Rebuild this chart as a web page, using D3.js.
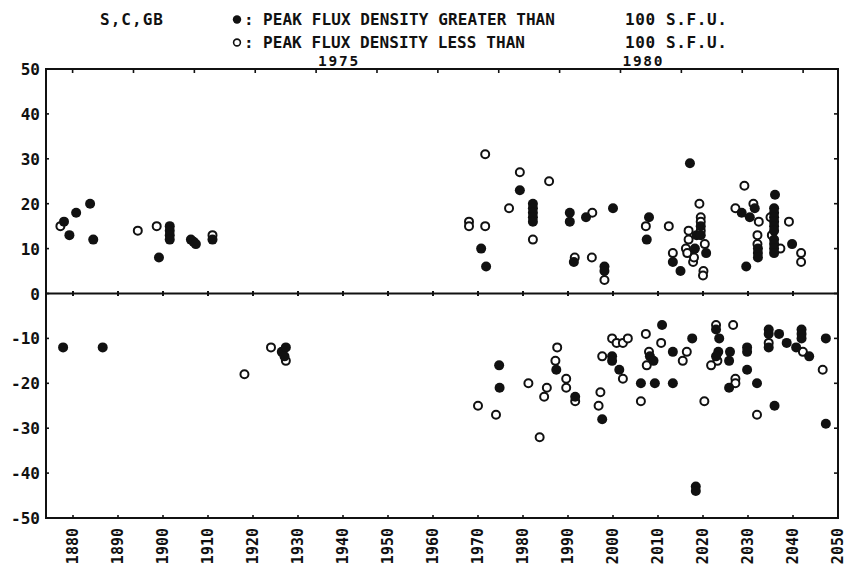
<!DOCTYPE html>
<html>
<head>
<meta charset="utf-8">
<script src="https://cdn.jsdelivr.net/npm/d3@7/dist/d3.min.js"></script>
<style>
  body { margin: 0; background: #fff; }
  text { font-family: "DejaVu Sans Mono", "Liberation Mono", monospace; fill: #111; font-weight: bold; }
</style>
</head>
<body>
<svg id="chart" width="846" height="574"></svg>
<script>
// Bartels rotation number vs. position angle (deg) of events
// filled: peak flux density > 100 s.f.u., open: < 100 s.f.u.
const bigX = [1878, 1879.2, 1880.7, 1883.8, 1884.5, 1899.1, 1901.5, 1901.5, 1901.5, 1901.5, 1906.2, 1906.8, 1907.3, 1911,
  1970.7, 1971.8, 1979.3, 1982.2, 1982.2, 1982.2, 1982.2, 1982.2, 1990.4, 1990.4, 1991.3, 1994, 1998.1, 1998.1, 2000, 2008, 2007.5,
  2013.3, 2015, 2017.1, 2018.2, 2018.6, 2019.5, 2019.5, 2020.7, 2028.6, 2030.4, 2029.6, 2031.5, 2032.2, 2032.2, 2032.2,
  2036, 2035.8, 2035.8, 2035.8, 2035.8, 2035.8, 2035.8, 2035.8, 2035.8, 2035.8, 2035.8, 2039.8,
  1877.8, 1886.6, 1926.4, 1927.3, 1927, 1974.7, 1974.8, 1987.4, 1991.6, 1997.6, 1999.8, 1999.8, 2001.4, 2006.2, 2009.3,
  2010.9, 2008.2, 2009, 2013.3, 2013.3, 2017.6, 2018.4, 2018.4, 2022.9, 2023.6, 2023.4, 2022.9, 2026, 2025.8, 2025.8,
  2029.8, 2029.8, 2029.8, 2032, 2035.9, 2034.6, 2034.6, 2034.6, 2036.9, 2038.6, 2040.7, 2043.6, 2041.9, 2041.9, 2041.9, 2047.3, 2047.3];
const bigY = [16, 13, 18, 20, 12, 8, 15, 14, 13, 12, 12, 11.5, 11, 12,
  10, 6, 23, 20, 19, 18, 17, 16, 18, 16, 7, 17, 6, 5, 19, 17, 12,
  7, 5, 29, 10, 13, 15, 13, 9, 18, 17, 6, 19, 10, 9, 8,
  22, 19, 18, 17, 16, 15, 14, 12, 11, 10, 9, 11,
  -12, -12, -13, -12, -14, -16, -21, -17, -23, -28, -14, -15, -17, -20, -20,
  -7, -14, -15, -13, -20, -10, -43, -44, -8, -10, -13, -14, -13, -15, -21,
  -12, -13, -17, -20, -25, -8, -9, -12, -9, -11, -12, -14, -8, -9, -10, -10, -29];

const smallX = [1877.2, 1894.4, 1898.6, 1911, 1968, 1968, 1971.6, 1971.6, 1976.9, 1979.3, 1982.2, 1985.8, 1991.5, 1995.4, 1995.3, 1998.1,
  2007.3, 2012.4, 2013.3, 2016.8, 2016.2, 2016.8, 2017.8, 2018, 2019.2, 2019.5, 2019.5, 2019.5, 2020.4, 2020.1, 2020, 2016.5,
  2027.2, 2029.2, 2031.2, 2032.4, 2032.1, 2032.1, 2035.3, 2035, 2037.2, 2039.1, 2041.8, 2041.8,
  1918.1, 1924, 1927.3, 1970, 1974, 1981.2, 1983.7, 1985.3, 1984.7, 1987.6, 1987.2, 1989.6, 1989.6, 1991.6, 1997.2, 1996.8,
  1997.6, 1999.8, 2000.8, 2002.2, 2003.3, 2002.2, 2006.2, 2007.3, 2008, 2007.5, 2010.7, 2016.4, 2015.5, 2020.3,
  2022.9, 2023.2, 2021.8, 2026.7, 2027.2, 2027.2, 2032, 2034.6, 2042.2, 2046.6];
const smallY = [15, 14, 15, 13, 16, 15, 31, 15, 19, 27, 12, 25, 8, 18, 8, 3,
  15, 15, 9, 14, 10, 12, 7, 8, 20, 17, 16, 14, 11, 5, 4, 9,
  19, 24, 20, 16, 13, 11, 13, 17, 10, 16, 9, 7,
  -18, -12, -15, -25, -27, -20, -32, -21, -23, -12, -15, -19, -21, -24, -22, -25,
  -14, -10, -11, -11, -10, -19, -24, -9, -13, -16, -11, -13, -15, -24,
  -7, -15, -16, -7, -19, -20, -27, -11, -13, -17];

const xTicks = [1880, 1890, 1900, 1910, 1920, 1930, 1940, 1950, 1960, 1970, 1980, 1990, 2000, 2010, 2020, 2030, 2040, 2050];
const yTicks = [50, 40, 30, 20, 10, 0, -10, -20, -30, -40, -50];
const years = [1971, 1972, 1973, 1974, 1975, 1976, 1977, 1978, 1979, 1980, 1981, 1982, 1983];
const yearLabels = [1975, 1980];

// Bartels rotation number at start of a calendar year
const bartels = (yr) => 1 + (yr - 1832.107) * 365.25 / 27;

const svg = d3.select("#chart");
const x = d3.scaleLinear().domain([1874, 2050]).range([46, 838]);
const y = d3.scaleLinear().domain([-50, 50]).range([518, 69]);

// header
const hdr = (tx, ty, s, len) => svg.append("text").attr("x", tx).attr("y", ty).attr("font-size", 16)
  .attr("textLength", len).attr("lengthAdjust", "spacing").text(s);
hdr(100, 25, "S,C,GB", 63);
svg.append("circle").attr("cx", 237).attr("cy", 19.5).attr("r", 4.2).attr("fill", "#111");
svg.append("circle").attr("cx", 237).attr("cy", 42.5).attr("r", 3.4).attr("fill", "#fff")
  .attr("stroke", "#111").attr("stroke-width", 1.6);
hdr(244, 25, ":", 9);
hdr(244, 48, ":", 9);
hdr(263, 25, "PEAK FLUX DENSITY GREATER THAN", 292);
hdr(263, 48, "PEAK FLUX DENSITY LESS THAN", 262);
hdr(625, 25, "100 S.F.U.", 102);
hdr(625, 48, "100 S.F.U.", 102);

// year labels above frame
svg.selectAll(".yr").data(yearLabels).join("text")
  .attr("x", d => x(bartels(d)) + 2).attr("y", 66).attr("font-size", 14.5)
  .attr("textLength", 40).attr("lengthAdjust", "spacing").text(d => d);

// frame
svg.append("rect").attr("x", x(1874)).attr("y", y(50))
  .attr("width", x(2050) - x(1874)).attr("height", y(-50) - y(50))
  .attr("fill", "none").attr("stroke", "#111").attr("stroke-width", 2);
svg.append("line").attr("x1", x(1874)).attr("x2", x(2050)).attr("y1", y(0)).attr("y2", y(0))
  .attr("stroke", "#111").attr("stroke-width", 2);

// year ticks on top
svg.selectAll(".yt").data(years).join("line")
  .attr("x1", d => x(bartels(d))).attr("x2", d => x(bartels(d)))
  .attr("y1", y(50)).attr("y2", y(50) + 4).attr("stroke", "#111").attr("stroke-width", 1.6);

// rotation ticks on zero line and bottom
svg.selectAll(".zt").data(xTicks.slice(0, -1)).join("line")
  .attr("x1", d => x(d)).attr("x2", d => x(d))
  .attr("y1", y(0) - 2.5).attr("y2", y(0) + 2.5).attr("stroke", "#111").attr("stroke-width", 2);
svg.selectAll(".bt").data(xTicks.slice(0, -1)).join("line")
  .attr("x1", d => x(d)).attr("x2", d => x(d))
  .attr("y1", y(-50)).attr("y2", y(-50) - 3).attr("stroke", "#111").attr("stroke-width", 1.6);

// y ticks left/right
svg.selectAll(".lt").data(yTicks).join("line")
  .attr("x1", x(1874)).attr("x2", x(1874) + 3).attr("y1", d => y(d)).attr("y2", d => y(d))
  .attr("stroke", "#111").attr("stroke-width", 1.6);
svg.selectAll(".rt").data(yTicks).join("line")
  .attr("x1", x(2050)).attr("x2", x(2050) - 4).attr("y1", d => y(d)).attr("y2", d => y(d))
  .attr("stroke", "#111").attr("stroke-width", 1.6);

// y labels
svg.selectAll(".yl").data(yTicks).join("text")
  .attr("x", x(1874) - 6).attr("y", d => y(d) + 6).attr("text-anchor", "end")
  .attr("font-size", 16).text(d => d);

// x labels, rotated
svg.selectAll(".xl").data(xTicks).join("text")
  .attr("transform", d => `translate(${x(d) + 5},${y(-50) + 10}) rotate(-90)`)
  .attr("text-anchor", "end").attr("font-size", 15).text(d => d);

// points
const big = bigX.map((v, i) => ({ x: v, y: bigY[i] }));
const small = smallX.map((v, i) => ({ x: v, y: smallY[i] }));

svg.append("g").selectAll("circle").data(small).join("circle")
  .attr("cx", d => x(d.x)).attr("cy", d => y(d.y)).attr("r", 4)
  .attr("fill", "#fff").attr("stroke", "#111").attr("stroke-width", 2);

svg.append("g").selectAll("circle").data(big).join("circle")
  .attr("cx", d => x(d.x)).attr("cy", d => y(d.y)).attr("r", 5)
  .attr("fill", "#111");
</script>
</body>
</html>
